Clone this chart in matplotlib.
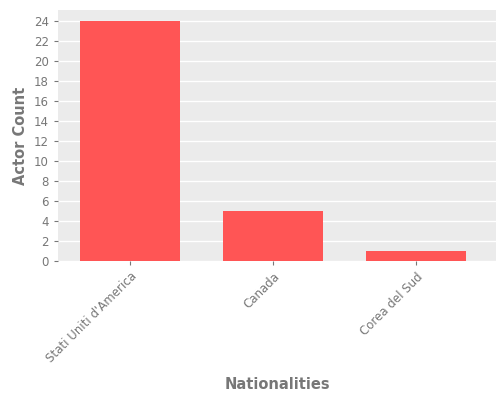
import matplotlib
matplotlib.use("Agg")
import matplotlib.pyplot as plt

# 数据
nationalities = ["Stati Uniti d'America", "Canada", "Corea del Sud"]
actor_counts = [24, 5, 1]

fig = plt.figure(figsize=(5, 4), dpi=100)
ax = fig.add_axes([0.116, 0.3475, 0.876, 0.6275])
ax.set_facecolor('#EBEBEB')

ax.bar(range(len(nationalities)), actor_counts, width=0.7, color='#FF5555', zorder=2)

ax.set_xlim(-0.503, len(nationalities) - 0.44)
ax.set_ylim(0, 25.1)
ax.set_yticks(range(0, 25, 2))
ax.set_xticks(range(len(nationalities)))
ax.set_xticklabels(nationalities, rotation=45, ha='right', rotation_mode='anchor')

ax.grid(axis='y', color='white', linewidth=1, zorder=1)
for s in ax.spines.values():
    s.set_visible(False)
ax.tick_params(colors='#777777', labelsize=8.5, length=3)

ax.set_xlabel("Nationalities", fontsize=10.5, fontweight='bold', color='#777777', labelpad=8)
ax.set_ylabel("Actor Count", fontsize=10.5, fontweight='bold', color='#777777')

fig.savefig("out.png", dpi=100)
